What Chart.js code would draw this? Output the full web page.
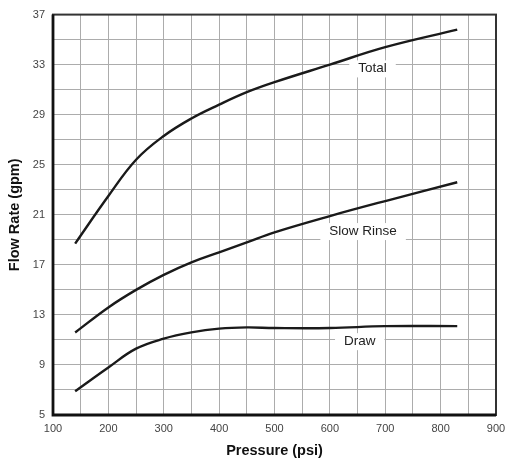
<!DOCTYPE html>
<html>
<head>
<meta charset="utf-8">
<script src="https://cdn.jsdelivr.net/npm/chart.js@4"></script>
<style>
  html, body { margin: 0; padding: 0; background: #fff; }
  #wrap { width: 505px; height: 462px; }
</style>
</head>
<body>
<div id="wrap"><canvas id="flowchart"></canvas></div>
<script>
const pressure = [140, 200, 250, 300, 350, 400, 450, 500, 600, 700, 830];
const totalFlow = [18.7, 22.5, 25.4, 27.3, 28.7, 29.8, 30.8, 31.6, 33.0, 34.4, 35.8];
const slowRinseFlow = [11.6, 13.6, 15.0, 16.2, 17.2, 18.0, 18.8, 19.6, 20.9, 22.1, 23.6];
const drawFlow = [6.9, 8.8, 10.3, 11.1, 11.6, 11.9, 12.0, 11.95, 11.95, 12.1, 12.1];

// curve labels, placed in data units
const curveLabels = [
  { text: 'Total', x: 677, y: 32.7 },
  { text: 'Slow Rinse', x: 660, y: 19.7 },
  { text: 'Draw', x: 654, y: 10.9 }
];

const FONT = '"Liberation Sans", Arial, Helvetica, sans-serif';

const toPoints = (ys) => ys.map((y, i) => ({ x: pressure[i], y: y }));

const lineStyle = {
  borderColor: '#1a1a1a',
  borderWidth: 2.4,
  pointRadius: 0,
  fill: false,
  tension: 0.4
};

// frame around the plot + white-boxed labels
const framePlugin = {
  id: 'frame',
  afterDatasetsDraw(chart) {
    const { ctx, chartArea: a, scales } = chart;
    ctx.save();
    ctx.font = '13.5px ' + FONT;
    ctx.textAlign = 'center';
    ctx.textBaseline = 'middle';
    curveLabels.forEach(l => {
      const px = scales.x.getPixelForValue(l.x);
      const py = scales.y.getPixelForValue(l.y);
      const w = ctx.measureText(l.text).width + 18;
      ctx.fillStyle = '#fff';
      ctx.fillRect(px - w / 2, py - 8, w, 17);
      ctx.fillStyle = '#222';
      ctx.fillText(l.text, px, py);
    });
    ctx.strokeStyle = '#333';
    ctx.lineWidth = 2;
    ctx.strokeRect(a.left, a.top, a.right - a.left, a.bottom - a.top);
    ctx.strokeStyle = '#111';
    ctx.lineWidth = 2.8;
    ctx.beginPath();
    ctx.moveTo(a.left, a.top);
    ctx.lineTo(a.left, a.bottom);
    ctx.lineTo(a.right, a.bottom);
    ctx.stroke();
    ctx.restore();
  }
};

new Chart(document.getElementById('flowchart'), {
  type: 'line',
  data: {
    datasets: [
      Object.assign({ label: 'Total', data: toPoints(totalFlow) }, lineStyle),
      Object.assign({ label: 'Slow Rinse', data: toPoints(slowRinseFlow) }, lineStyle),
      Object.assign({ label: 'Draw', data: toPoints(drawFlow) }, lineStyle)
    ]
  },
  options: {
    responsive: true,
    maintainAspectRatio: false,
    animation: false,
    layout: { padding: { top: 14, right: 0, left: 0, bottom: 2 } },
    plugins: { legend: { display: false }, tooltip: { enabled: false } },
    scales: {
      x: {
        type: 'linear',
        min: 100,
        max: 900,
        border: { display: false },
        grid: { color: '#acacac', lineWidth: 1, drawTicks: false },
        ticks: {
          stepSize: 50,
          autoSkip: false,
          maxRotation: 0,
          padding: 7,
          color: '#444',
          font: { family: FONT, size: 11 },
          callback: v => (v % 100 === 0 ? v : '')
        },
        title: {
          display: true,
          text: 'Pressure (psi)',
          color: '#111',
          font: { family: FONT, size: 14.5, weight: 'bold' },
          padding: { top: 9, bottom: 0 }
        },
        afterFit: s => { s.height = 45; s.paddingRight = 9; s.paddingLeft = 0; }
      },
      y: {
        min: 5,
        max: 37,
        border: { display: false },
        grid: { color: '#acacac', lineWidth: 1, drawTicks: false },
        ticks: {
          stepSize: 2,
          autoSkip: false,
          padding: 8,
          color: '#444',
          font: { family: FONT, size: 11 },
          callback: v => ((v - 5) % 4 === 0 ? v : '')
        },
        title: {
          display: true,
          text: 'Flow Rate (gpm)',
          color: '#111',
          font: { family: FONT, size: 14.5, weight: 'bold' },
          padding: { top: 6, bottom: 4 }
        },
        afterFit: s => { s.width = 53; }
      }
    }
  },
  plugins: [framePlugin]
});
</script>
</body>
</html>
